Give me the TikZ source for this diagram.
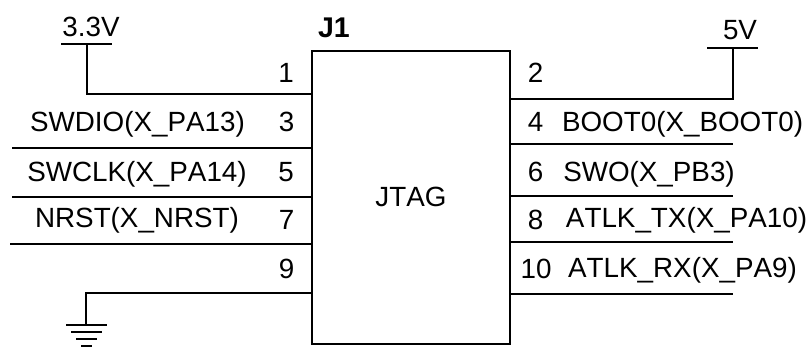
\documentclass[tikz,border=0pt]{standalone}
\usepackage{fontspec}
\setmainfont[Kerning=Off]{Liberation Sans}
\begin{document}
\begin{tikzpicture}[x=1pt,y=-1pt,
  wire/.style={line width=2pt,line cap=butt,line join=miter},
  lbl/.style={anchor=base,inner sep=0pt,outer sep=0pt,font=\fontsize{27.8}{32}\selectfont},
  title/.style={lbl,font=\fontsize{28.5}{32}\selectfont\bfseries}]
\useasboundingbox (0,0) rectangle (811,347);
\node[draw,wire,minimum width=198pt,minimum height=293pt,inner sep=0pt,anchor=north west] (box) at (311,50) {};
\node[lbl] (jtag) at (411,207) {JTAG};
\node[title] (j1) at (334,37.5) {J1};
% left side
\coordinate (a1) at (87,94.5);\coordinate (a1t) at (87,44);
\coordinate (b1) at (311,94.5);
\draw[wire] (b1) -- (a1) -- (a1t);
\coordinate (bar1l) at (61,44);\coordinate (bar1r) at (112,44);
\draw[wire] (bar1l) -- (bar1r);
\foreach \y/\x/\n in {148/12/l3,197/12/l5,244/10/l7}{
  \coordinate (\n a) at (\x,\y);\coordinate (\n b) at (311,\y);
  \draw[wire] (\n a) -- (\n b);}
\coordinate (g0) at (311,293);\coordinate (g1) at (86,293);\coordinate (g2) at (86,325);
\draw[wire] (g0) -- (g1) -- (g2);
\foreach \y/\a/\b in {325/66/107,332/71/102,339/76/97,346/81/92}{
  \draw[wire] (\a,\y) -- (\b,\y);}
% right side
\coordinate (r2a) at (509,99);\coordinate (r2b) at (733,99);\coordinate (r2c) at (733,48);
\draw[wire] (r2a) -- (r2b) -- (r2c);
\coordinate (bar2l) at (707,48);\coordinate (bar2r) at (758,48);
\draw[wire] (bar2l) -- (bar2r);
\foreach \y/\n in {144/r4,196/r6,242/r8,294/r10}{
  \coordinate (\n a) at (509,\y);\coordinate (\n b) at (733,\y);
  \draw[wire] (\n a) -- (\n b);}
% labels
\node[lbl] (v33) at (91,37) {3.3V};
\node[lbl] (v5) at (740,40) {5V};
\node[lbl] (p1) at (286,83) {1};
\node[lbl] (p3) at (286.5,132) {3};
\node[lbl] (p5) at (286,182) {5};
\node[lbl] (p7) at (286.5,230) {7};
\node[lbl] (p9) at (286.5,279) {9};
\node[lbl] (p2) at (535.5,83) {2};
\node[lbl] (p4) at (535.5,132) {4};
\node[lbl] (p6) at (535.5,182) {6};
\node[lbl] (p8) at (535.5,230) {8};
\node[lbl] (p10) at (536,279) {10};
\node[lbl] (s3) at (137.5,132) {SWDIO(X\_PA13)};
\node[lbl] (s5) at (137,182) {SWCLK(X\_PA14)};
\node[lbl] (s7) at (137,228) {NRST(X\_NRST)};
\node[lbl] (s4) at (682.5,132) {BOOT0(X\_BOOT0)};
\node[lbl] (s6) at (649,182) {SWO(X\_PB3)};
\node[lbl] (s8) at (686.5,228) {ATLK\_TX(X\_PA10)};
\node[lbl] (s10) at (682.5,278) {ATLK\_RX(X\_PA9)};
\end{tikzpicture}
\end{document}
